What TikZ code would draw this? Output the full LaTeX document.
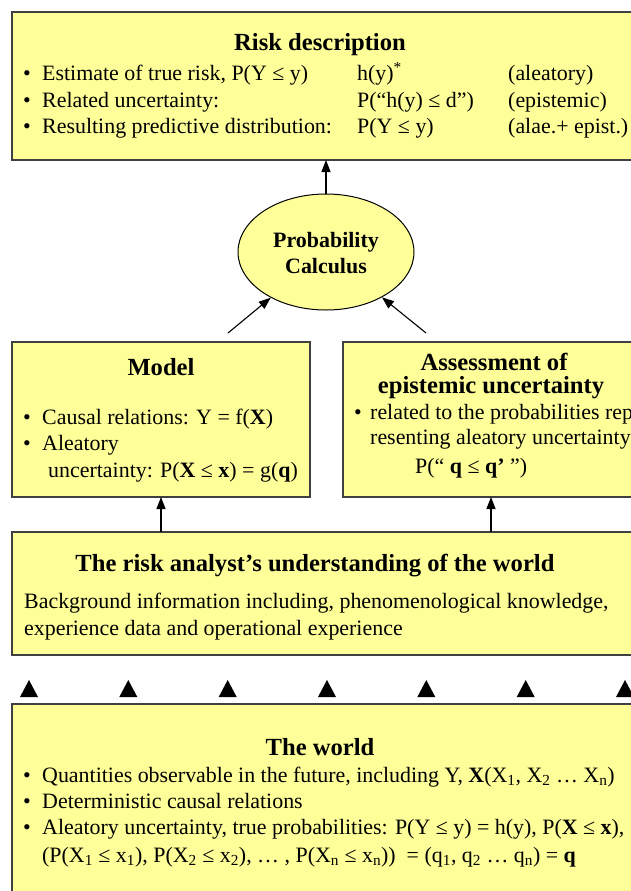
\documentclass[tikz,border=0pt]{standalone}
\usepackage{fontspec}
\setmainfont{Liberation Serif}
\usetikzlibrary{arrows.meta,shapes.geometric}
\definecolor{boxfill}{HTML}{FFFF99}
\definecolor{boxline}{HTML}{404040}
\begin{document}
\begin{tikzpicture}[x=1bp,y=-1bp,
  box/.style={draw=boxline, fill=boxfill, line width=1.2bp, rectangle, anchor=north west, inner sep=0pt, outer sep=0pt},
  txt/.style={anchor=base west, inner sep=0pt, font=\fontsize{22}{26}\selectfont},
  ttl/.style={anchor=base, inner sep=0pt, font=\fontsize{24.7}{28}\selectfont\bfseries},
  ettl/.style={anchor=base, inner sep=0pt, font=\fontsize{22}{26}\selectfont\bfseries},
  arr/.style={-{Triangle[length=12bp,width=9bp]}, line width=1.1bp},
]
\useasboundingbox (0,0) rectangle (631,891);
\clip (0,0) rectangle (631,891);
\fill[white] (0,0) rectangle (631,891);

% boxes
\node[box, minimum width=640bp, minimum height=148bp] (risk) at (12,12) {};
\node[box, minimum width=298bp, minimum height=155bp] (model) at (12,342) {};
\node[box, minimum width=310bp, minimum height=155bp] (assess) at (343,342) {};
\node[box, minimum width=640bp, minimum height=123bp] (und) at (12,532) {};
\node[box, minimum width=640bp, minimum height=200bp] (world) at (12,704) {};
\node[ellipse, draw=black, fill=boxfill, line width=1bp, minimum width=176bp, minimum height=116bp, inner sep=0pt] (ell) at (326,252) {};

% risk description
\node[ttl] (rt) at (320,50) {Risk description};
\node[txt] (rb1) at (23,80) {\textbullet};
\node[txt] (rb2) at (23,107) {\textbullet};
\node[txt] (rb3) at (23,133) {\textbullet};
\node[txt] (r1a) at (42,80) {Estimate of true risk, P(Y ≤ y)};
\node[txt] (r2a) at (42,107) {Related uncertainty:};
\node[txt] (r3a) at (42,133) {Resulting predictive distribution:};
\node[txt] (r1b) at (357,80) {h(y)\textsuperscript{*}};
\node[txt] (r2b) at (357,107) {P(“h(y) ≤ d”)};
\node[txt] (r3b) at (357,133) {P(Y ≤ y)};
\node[txt] (r1c) at (508,80) {(aleatory)};
\node[txt] (r2c) at (508,107) {(epistemic)};
\node[txt] (r3c) at (508,133) {(alae.+ epist.)};

% ellipse text
\node[ettl] (e1) at (326,247) {Probability};
\node[ettl] (e2) at (326,273) {Calculus};

% model
\node[ttl] (mt) at (161,375) {Model};
\node[txt] (mb1) at (23,424) {\textbullet};
\node[txt] (mb2) at (23,450) {\textbullet};
\node[txt] (m1) at (42,424) {Causal relations: Y = f(\textbf{X})};
\node[txt] (m2) at (42,450) {Aleatory};
\node[txt] (m3) at (48,477) {uncertainty: P(\textbf{X} ≤ \textbf{x}) = g(\textbf{q})};

% assessment
\node[ttl] (at1) at (494,370) {Assessment of};
\node[ttl] (at2) at (491,393) {epistemic uncertainty};
\node[txt] (ab1) at (354,419) {\textbullet};
\node[txt] (a1) at (370,419) {related to the probabilities rep-};
\node[txt] (a2) at (370,444) {resenting aleatory uncertainty};
\node[txt] (a3) at (415,473) {P(“ \textbf{q} ≤ \textbf{q’} ”)};

% understanding
\node[ttl] (ut) at (315,571) {The risk analyst’s understanding of the world};
\node[txt] (u1) at (24,608) {Background information including, phenomenological knowledge,};
\node[txt] (u2) at (24,635) {experience data and operational experience};

% world
\node[ttl] (wt) at (320,755) {The world};
\node[txt] (wb1) at (23,782) {\textbullet};
\node[txt] (wb2) at (23,808) {\textbullet};
\node[txt] (wb3) at (23,834) {\textbullet};
\node[txt] (w1) at (42,782) {Quantities observable in the future, including Y, \textbf{X}(X\textsubscript{1}, X\textsubscript{2} … X\textsubscript{n})};
\node[txt] (w2) at (42,808) {Deterministic causal relations};
\node[txt] (w3) at (42,834) {Aleatory uncertainty, true probabilities: P(Y ≤ y) = h(y), P(\textbf{X} ≤ \textbf{x}),};
\node[txt] (w4) at (42,862) {(P(X\textsubscript{1} ≤ x\textsubscript{1}), P(X\textsubscript{2} ≤ x\textsubscript{2}), … , P(X\textsubscript{n} ≤ x\textsubscript{n}))~ = (q\textsubscript{1}, q\textsubscript{2} … q\textsubscript{n}) = \textbf{q}};

% connectors
\coordinate (c1) at (228,333);
\coordinate (c2) at (426,333);
\coordinate (ax) at (491,497);
\draw[arr] (ell.north) -- (ell.north |- risk.south);
\draw[arr] (c1) -- (ell);
\draw[arr] (c2) -- (ell);
\draw[arr] (model.south |- und.north) -- (model.south);
\draw[arr] (ax |- und.north) -- (ax);

% triangles above the world box
\foreach \tx in {29,128.3,227.7,327,426.3,525.7,625}
  \fill[black] (\tx-9,697) -- (\tx+9,697) -- (\tx,680) -- cycle;
\end{tikzpicture}
\end{document}
